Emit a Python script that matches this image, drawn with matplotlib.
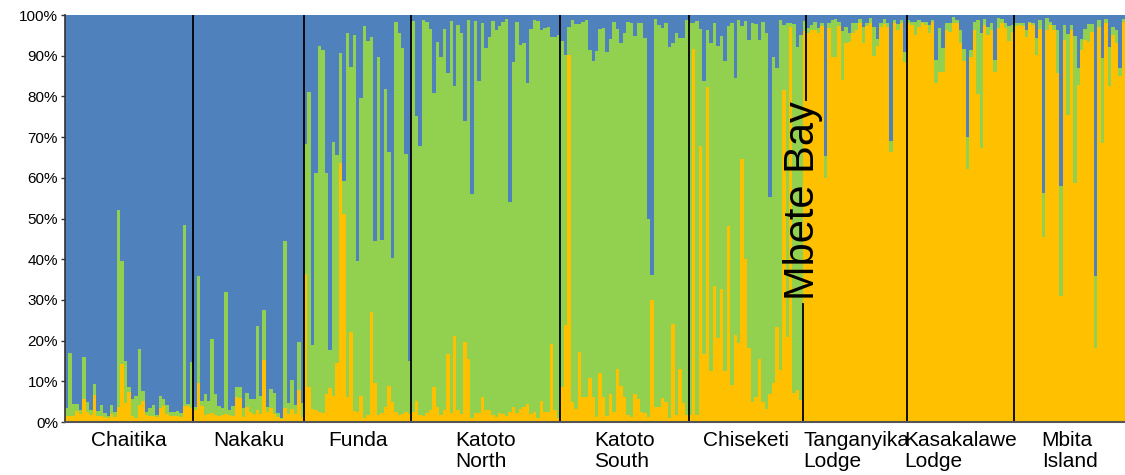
import matplotlib
matplotlib.use("Agg")
import matplotlib.pyplot as plt
import numpy as np
from matplotlib.ticker import FuncFormatter

plt.rcParams["font.family"] = ["Liberation Sans", "DejaVu Sans"]

# group names and number of individuals (bars) per group
groups = ["Chaitika", "Nakaku", "Funda", "Katoto\nNorth", "Katoto\nSouth",
          "Chiseketi", "Mbete Bay", "Tanganyika\nLodge", "Kasakalawe\nLodge",
          "Mbita\nIsland"]
group_sizes = [37, 32, 31, 43, 37, 33, 1, 29, 31, 32]

# ancestry proportions (%) per individual; blue is the remainder to 100
orange = [
    # Chaitika
    1.5, 1.5, 1.5, 2.7, 2.0, 5.6, 2.5, 1.7, 6.6, 1.5, 1.5, 1.2, 0.9, 2.0, 1.2,
    3.7, 14.2, 4.7, 7.3, 1.5, 1.0, 4.2, 5.2, 1.7, 1.4, 1.4, 1.2, 3.4, 4.0, 1.9,
    1.4, 1.5, 1.5, 1.2, 4.0, 3.9, 3.4,
    # Nakaku
    3.0, 9.7, 4.0, 1.7, 2.0, 2.1, 1.7, 1.5, 1.7, 2.0, 1.7, 1.5, 6.2, 6.0, 1.3,
    3.8, 2.5, 2.0, 3.0, 2.0, 15.2, 2.5, 3.4, 2.0, 1.2, 0.7, 3.4, 2.0, 3.1, 2.0,
    7.9, 1.2,
    # Funda
    36.4, 8.7, 3.1, 2.9, 2.5, 2.1, 6.9, 8.3, 6.4, 14.4, 63.6, 51.1, 6.2, 22.0,
    2.8, 2.5, 6.4, 1.1, 1.7, 27.1, 9.5, 1.7, 2.3, 3.6, 8.8, 4.8, 2.5, 1.7, 2.0,
    2.5, 2.0,
    # Katoto North
    2.5, 5.2, 1.7, 1.5, 2.1, 2.9, 8.5, 3.6, 1.7, 2.9, 16.7, 2.1, 21.1, 2.9, 2.0,
    19.6, 15.6, 1.1, 2.1, 2.1, 6.2, 2.9, 2.9, 1.7, 1.3, 2.3, 2.0, 1.5, 2.5, 3.6,
    2.1, 3.1, 3.6, 4.4, 2.0, 2.5, 0.9, 5.2, 2.5, 2.5, 19.1, 2.9, 1.1,
    # Katoto South
    8.5, 23.8, 90.2, 4.8, 3.1, 17.3, 6.2, 6.2, 10.7, 6.2, 1.3, 12.0, 6.2, 1.5,
    6.9, 2.5, 12.9, 8.8, 6.2, 1.7, 1.3, 7.0, 5.6, 2.5, 2.3, 1.3, 30.0, 3.6, 3.8,
    5.8, 4.8, 1.1, 24.0, 1.7, 12.9, 4.6, 1.7,
    # Chiseketi
    1.7, 91.6, 1.7, 67.8, 16.7, 82.4, 12.6, 33.3, 20.6, 32.6, 12.6, 48.2, 9.1,
    21.4, 19.3, 64.5, 40.0, 18.1, 4.8, 6.2, 15.6, 4.8, 3.1, 6.9, 9.5, 23.4,
    12.8, 81.6, 21.0, 97.0, 7.2, 7.9, 5.4,
    # Mbete Bay
    96.0,
    # Tanganyika Lodge
    95.5, 96.2, 96.2, 95.7, 97.2, 59.9, 96.7, 89.8, 89.8, 97.3, 84.0, 93.0,
    93.4, 95.5, 96.3, 98.0, 93.0, 97.2, 98.1, 89.9, 92.4, 97.1, 97.8, 97.1,
    66.4, 98.1, 96.3, 98.0, 88.5,
    # Kasakalawe Lodge
    98.0, 97.5, 95.1, 97.1, 98.0, 97.5, 95.5, 98.4, 83.2, 86.1, 86.1, 96.3,
    95.9, 98.0, 98.0, 93.0, 88.8, 62.1, 89.8, 96.2, 80.6, 67.2, 97.5, 95.1,
    96.3, 86.1, 96.7, 98.0, 96.7, 93.7, 95.9,
    # Mbita Island
    97.3, 97.5, 97.3, 94.7, 98.0, 97.5, 90.2, 96.5, 45.4, 96.2, 97.5, 96.3,
    85.8, 31.0, 93.9, 75.4, 96.2, 58.6, 82.8, 91.4, 93.9, 93.4, 95.9, 18.1,
    97.1, 68.6, 98.1, 82.6, 95.1, 93.0, 85.0, 98.4,
]
green = [
    # Chaitika
    1.9, 15.5, 3.0, 1.6, 0.9, 10.4, 2.3, 1.3, 2.7, 1.2, 2.7, 0.9, 0.6, 2.2, 1.2,
    48.3, 25.3, 10.3, 1.3, 4.2, 5.3, 13.8, 2.3, 0.8, 2.1, 2.8, 0.5, 3.1, 1.7,
    2.3, 1.0, 0.9, 1.2, 1.0, 44.5, 0.6, 11.3,
    # Nakaku
    0.8, 26.2, 1.2, 5.3, 3.2, 18.2, 5.3, 2.4, 1.7, 30.0, 1.3, 2.4, 2.5, 2.7,
    2.1, 3.4, 3.1, 3.6, 20.6, 4.4, 12.3, 1.1, 4.7, 5.2, 1.1, 0.4, 41.1, 2.6,
    7.1, 2.2, 11.7, 3.4,
    # Funda
    31.9, 72.5, 15.8, 58.4, 89.9, 89.3, 54.4, 9.4, 62.3, 51.2, 27.0, 8.1, 89.5,
    65.3, 92.2, 37.1, 73.1, 96.2, 92.0, 67.6, 35.0, 87.9, 42.3, 78.1, 57.6,
    35.4, 95.8, 93.8, 90.0, 63.3, 13.1,
    # Katoto North
    96.1, 70.0, 66.2, 97.3, 96.3, 93.7, 72.4, 89.8, 88.1, 93.6, 69.0, 96.5,
    61.5, 94.6, 93.7, 54.4, 83.2, 54.9, 96.4, 81.8, 91.9, 89.1, 91.6, 96.8,
    94.9, 95.1, 96.4, 97.5, 51.5, 84.9, 96.3, 89.6, 89.4, 79.0, 94.6, 96.3,
    97.7, 91.0, 94.2, 94.5, 75.6, 91.8, 94.1,
    # Katoto South
    85.2, 66.4, 6.8, 94.0, 94.7, 80.5, 92.2, 92.6, 80.7, 82.6, 89.9, 84.6,
    90.5, 89.5, 87.1, 95.9, 83.6, 84.2, 89.3, 96.5, 96.7, 87.9, 92.5, 95.5,
    92.0, 48.7, 6.1, 95.4, 93.7, 90.9, 93.3, 91.1, 69.0, 93.8, 81.4, 89.7, 97.1,
    # Chiseketi
    96.4, 6.5, 96.9, 28.7, 67.1, 13.8, 80.4, 64.7, 71.8, 62.2, 76.2, 49.1,
    89.0, 63.0, 79.5, 32.8, 58.6, 75.8, 93.2, 91.6, 78.3, 93.6, 92.6, 48.5,
    80.3, 63.7, 86.0, 15.9, 77.0, 1.1, 90.6, 84.3, 89.6,
    # Mbete Bay
    2.5,
    # Tanganyika Lodge
    1.2, 1.3, 2.2, 1.0, 0.8, 5.5, 1.3, 9.0, 9.1, 1.1, 12.0, 4.1, 2.3, 2.5, 1.7,
    0.9, 4.1, 0.8, 1.1, 7.2, 1.6, 0.9, 1.1, 1.0, 2.7, 0.7, 1.5, 0.8, 2.5,
    # Kasakalawe Lodge
    0.8, 0.9, 3.3, 1.7, 0.4, 0.9, 2.0, 0.4, 5.7, 10.6, 5.7, 1.7, 2.2, 1.4, 0.8,
    3.2, 2.8, 8.0, 1.6, 2.2, 18.2, 28.3, 1.4, 2.0, 1.7, 2.8, 2.5, 0.9, 1.3,
    3.6, 1.6,
    # Mbita Island
    0.8, 0.6, 0.7, 1.5, 0.4, 0.6, 4.1, 2.3, 10.8, 3.0, 0.9, 1.2, 10.5, 27.0,
    3.6, 19.9, 1.3, 36.2, 4.3, 2.6, 2.6, 4.4, 1.9, 17.8, 1.7, 20.8, 0.8, 9.5,
    1.9, 3.2, 1.9, 0.5,
]

C_BLUE = "#4F81BD"
C_GREEN = "#92D050"
C_ORANGE = "#FFC000"


def main():
    o = np.array(orange)
    g = np.array(green)
    b = 100.0 - o - g
    x = np.arange(len(o))

    fig = plt.figure(figsize=(11.25, 4.75), dpi=100)
    ax = fig.add_axes([65 / 1125, 53 / 475, 1060 / 1125, 407 / 475])

    ax.bar(x, o, width=1.0, color=C_ORANGE, linewidth=0)
    ax.bar(x, g, width=1.0, bottom=o, color=C_GREEN, linewidth=0)
    ax.bar(x, b, width=1.0, bottom=o + g, color=C_BLUE, linewidth=0)

    ax.set_xlim(-0.5, len(o) - 0.5)
    ax.set_ylim(0, 100)
    ax.set_yticks(np.arange(0, 101, 10))
    ax.yaxis.set_major_formatter(FuncFormatter(lambda v, _: f"{v:.0f}%"))
    ax.tick_params(axis="y", labelsize=11, length=3, width=1, color="#333333",
                   pad=2)
    ax.set_xticks([])
    for s in ("top", "right"):
        ax.spines[s].set_visible(False)
    ax.spines["left"].set_color("#333333")
    ax.spines["left"].set_linewidth(1.2)
    ax.spines["bottom"].set_color("#555555")
    ax.spines["bottom"].set_linewidth(1.5)

    edges = np.cumsum(group_sizes)
    starts = edges - np.array(group_sizes)
    mbete = groups.index("Mbete Bay")
    for i, e in enumerate(edges[:-1]):
        pos = e - 0.5
        if i == mbete - 1:
            ax.axvline(pos, ymin=0, ymax=0.29, color="black", lw=1.3)
        elif i == mbete:
            ax.axvline(pos, ymin=0.79, ymax=1, color="black", lw=1.3)
        else:
            ax.axvline(pos, color="black", lw=1.3)

    for i, name in enumerate(groups):
        center = (starts[i] + edges[i] - 1) / 2
        if name == "Mbete Bay":
            ax.text(center - 0.5, 54.3, name, rotation=90, fontsize=30,
                    ha="center", va="center")
            continue
        ax.text(center, -2.2, name, fontsize=15, ha="center", va="top",
                multialignment="left", linespacing=1.12)

    fig.savefig("out.png", dpi=100)
    plt.close(fig)


if __name__ == "__main__":
    main()
